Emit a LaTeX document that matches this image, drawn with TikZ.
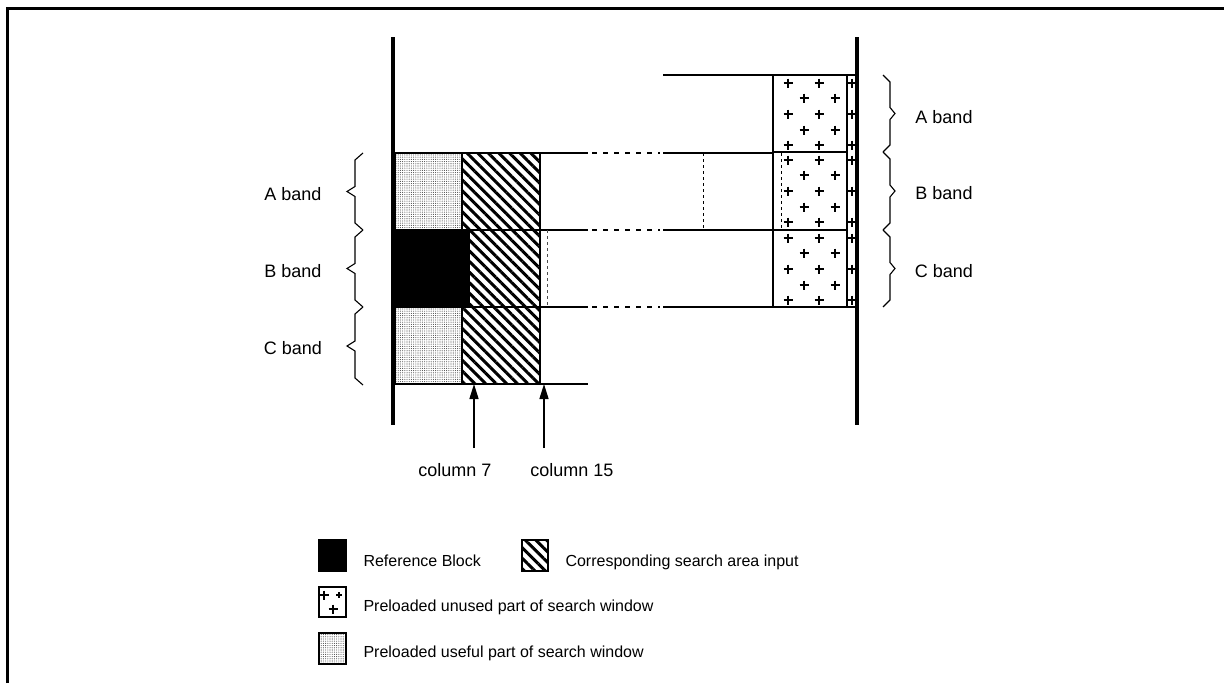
\documentclass[tikz,border=0pt]{standalone}
\usepackage{fontspec}
\setmainfont{Liberation Sans}
\usetikzlibrary{arrows.meta,patterns.meta}
\tikzstyle{cell}=[rectangle,draw,line width=1.4pt,inner sep=0pt,outer sep=0pt,anchor=north west]
\tikzstyle{search}=[cell,pattern={Lines[angle=-45,distance=7.5pt,line width=3pt]}]
\tikzstyle{useful}=[cell,pattern={Dots[distance=2.2pt,radius=0.55pt]},pattern color=black!70]
\tikzstyle{refblk}=[cell,fill=black]
\tikzstyle{unused}=[cell,fill=white]
\tikzstyle{rule}=[line width=1.6pt]
\tikzstyle{gap}=[line width=1.2pt,dash pattern=on 5pt off 6pt]
\tikzstyle{wall}=[line width=4pt]
\tikzstyle{plusline}=[line width=1.8pt]
\tikzstyle{colarrow}=[line width=1.5pt,-{Triangle[length=15pt,width=9pt]}]
\tikzstyle{bandlabel}=[anchor=base,font=\fontsize{18}{21}\selectfont]
\tikzstyle{legendtext}=[anchor=base west,font=\fontsize{16}{19}\selectfont]
\newcommand{\plusat}[2]{\draw[plusline] (#1-4.5,#2) -- (#1+4.5,#2) (#1,#2-4.5) -- (#1,#2+4.5);}
\newcommand{\bracel}[2]{\draw[line width=1.1pt] (363,#1) -- (355,#1+7) -- (355,{(#1+#2)/2-5}) -- (347,{(#1+#2)/2}) -- (355,{(#1+#2)/2+5}) -- (355,#2-7) -- (363,#2);}
\newcommand{\bracer}[2]{\draw[line width=1.1pt] (883,#1) -- (890,#1+7) -- (890,{(#1+#2)/2-6}) -- (895,{(#1+#2)/2}) -- (890,{(#1+#2)/2+6}) -- (890,#2-7) -- (883,#2);}

\begin{document}
\begin{tikzpicture}[x=1pt,y=-1pt]
    \useasboundingbox (0,0) rectangle (1224,683);
    \draw[line width=3pt] (7,683) -- (7,8) -- (1224,8);

    % left search window
    \node[useful,minimum width=67,minimum height=77] (usefulA) at (395,153) {};
    \node[refblk,minimum width=74,minimum height=77] (refB) at (395,230) {};
    \node[useful,minimum width=67,minimum height=77] (usefulC) at (395,307) {};
    \node[search,minimum width=78,minimum height=77] (searchA) at (462,153) {};
    \node[search,minimum width=71,minimum height=77] (searchB) at (469,230) {};
    \node[search,minimum width=78,minimum height=77] (searchC) at (462,307) {};

    % right search window
    \node[unused,minimum width=74,minimum height=77] (unusedA) at (773,75) {};
    \node[unused,minimum width=74,minimum height=78] (unusedB) at (773,152) {};
    \node[unused,minimum width=74,minimum height=77] (unusedC) at (773,230) {};
    \node[unused,minimum width=10,minimum height=232] (edge) at (847,75) {};

    \foreach \r in {75,152,230} {
        \foreach \d in {8,39,70} {
            \plusat{788}{\r+\d}
            \plusat{819}{\r+\d}
            \plusat{852}{\r+\d}
        }
        \foreach \d in {23,55} {
            \plusat{804}{\r+\d}
            \plusat{835}{\r+\d}
        }
    }

    % band lines
    \foreach \y in {153,230,307} {
        \draw[rule] (540,\y) -- (588,\y);
        \draw[gap] (592,\y) -- (660,\y);
        \draw[rule] (663,\y) -- (773,\y);
    }
    \draw[rule] (540,384) -- (588,384);
    \draw[rule] (663,75) -- (773,75);
    \draw[line width=0.9pt,dashed,black!70] (547,230) -- (547,307);
    \draw[line width=0.9pt,dashed] (703,153) -- (703,230);
    \draw[line width=0.9pt,dashed] (781,153) -- (781,230);

    \draw[wall] (393,37) -- (393,425);
    \draw[wall] (857,37) -- (857,425);

    % braces
    \bracel{153}{230}
    \bracel{230}{307}
    \bracel{307}{385}
    \bracer{75}{152}
    \bracer{152}{230}
    \bracer{230}{307}
    \node[bandlabel] (lA) at (293,200) {A band};
    \node[bandlabel] (lB) at (293,277) {B band};
    \node[bandlabel] (lC) at (293,354) {C band};
    \node[bandlabel] (rA) at (944,123) {A band};
    \node[bandlabel] (rB) at (944,199) {B band};
    \node[bandlabel] (rC) at (944,277) {C band};

    % columns
    \coordinate (c7) at (474,448);
    \coordinate (c15) at (544,448);
    \draw[colarrow] (c7) -- (c7 |- searchC.south);
    \draw[colarrow] (c15) -- (c15 |- searchC.south);
    \node[bandlabel] (col7) at (455,476) {column 7};
    \node[bandlabel] (col15) at (572,476) {column 15};

    % legend
    \node[refblk,minimum width=27,minimum height=31] (keyref) at (319,540) {};
    \node[legendtext] (tref) at (360,566) {Reference Block};
    \node[search,minimum width=26,minimum height=31] (keysearch) at (522,540) {};
    \node[legendtext] (tsearch) at (562,566) {Corresponding search area input};
    \node[unused,minimum width=27,minimum height=30] (keyunused) at (319,587) {};
    \plusat{324}{595}
    \draw[line width=1.2pt] (336,595) -- (342,595) (339,592) -- (339,598);
    \plusat{333}{609}
    \node[legendtext] (tunused) at (360,611) {Preloaded unused part of search window};
    \node[useful,minimum width=27,minimum height=31] (keyuseful) at (319,633) {};
    \node[legendtext] (tuseful) at (360,657) {Preloaded useful part of search window};
\end{tikzpicture}
\end{document}
